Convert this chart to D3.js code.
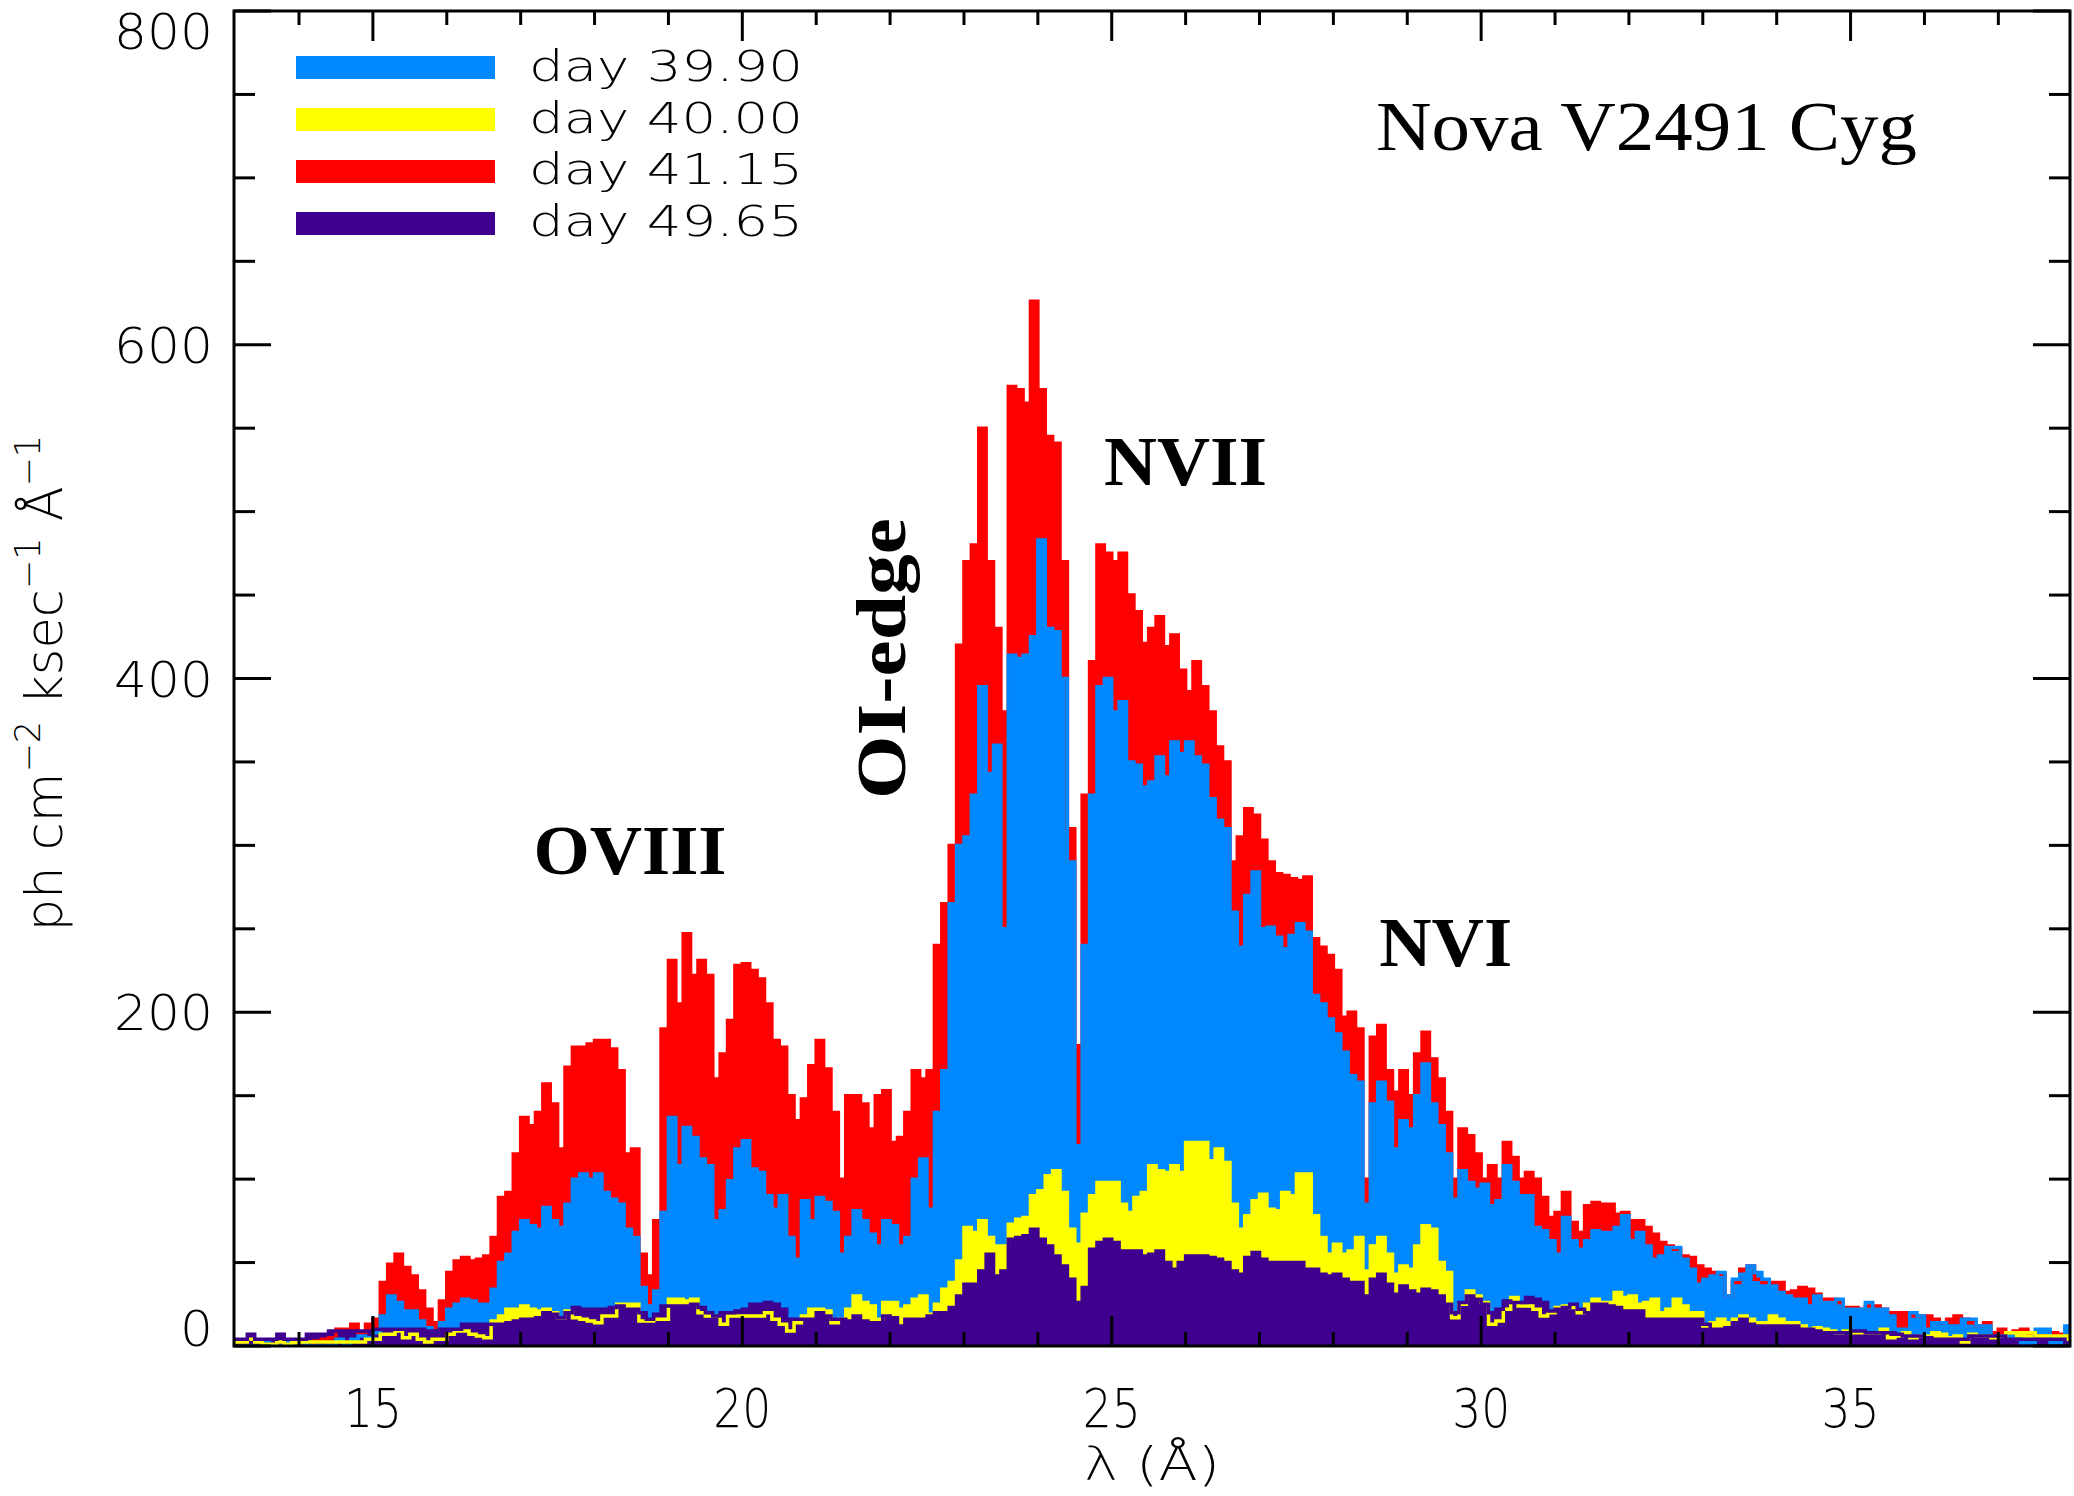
<!DOCTYPE html>
<html><head><meta charset="utf-8">
<script src="https://cdn.jsdelivr.net/npm/d3@7"></script>
<style>html,body{margin:0;padding:0;background:#fff;}svg{display:block}</style>
</head><body>
<svg id="chart" width="2074" height="1496"></svg>
<script>
// bin start wavelengths (Angstrom), bin width 0.1
const wavelength = [
13.0,13.1,13.2,13.3,13.4,13.5,13.6,13.7,13.8,13.9,
14.0,14.1,14.2,14.3,14.4,14.5,14.6,14.7,14.8,14.9,
15.0,15.1,15.2,15.3,15.4,15.5,15.6,15.7,15.8,15.9,
16.0,16.1,16.2,16.3,16.4,16.5,16.6,16.7,16.8,16.9,
17.0,17.1,17.2,17.3,17.4,17.5,17.6,17.7,17.8,17.9,
18.0,18.1,18.2,18.3,18.4,18.5,18.6,18.7,18.8,18.9,
19.0,19.1,19.2,19.3,19.4,19.5,19.6,19.7,19.8,19.9,
20.0,20.1,20.2,20.3,20.4,20.5,20.6,20.7,20.8,20.9,
21.0,21.1,21.2,21.3,21.4,21.5,21.6,21.7,21.8,21.9,
22.0,22.1,22.2,22.3,22.4,22.5,22.6,22.7,22.8,22.9,
23.0,23.1,23.2,23.3,23.4,23.5,23.6,23.7,23.8,23.9,
24.0,24.1,24.2,24.3,24.4,24.5,24.6,24.7,24.8,24.9,
25.0,25.1,25.2,25.3,25.4,25.5,25.6,25.7,25.8,25.9,
26.0,26.1,26.2,26.3,26.4,26.5,26.6,26.7,26.8,26.9,
27.0,27.1,27.2,27.3,27.4,27.5,27.6,27.7,27.8,27.9,
28.0,28.1,28.2,28.3,28.4,28.5,28.6,28.7,28.8,28.9,
29.0,29.1,29.2,29.3,29.4,29.5,29.6,29.7,29.8,29.9,
30.0,30.1,30.2,30.3,30.4,30.5,30.6,30.7,30.8,30.9,
31.0,31.1,31.2,31.3,31.4,31.5,31.6,31.7,31.8,31.9,
32.0,32.1,32.2,32.3,32.4,32.5,32.6,32.7,32.8,32.9,
33.0,33.1,33.2,33.3,33.4,33.5,33.6,33.7,33.8,33.9,
34.0,34.1,34.2,34.3,34.4,34.5,34.6,34.7,34.8,34.9,
35.0,35.1,35.2,35.3,35.4,35.5,35.6,35.7,35.8,35.9,
36.0,36.1,36.2,36.3,36.4,36.5,36.6,36.7,36.8,36.9,
37.0,37.1,37.2,37.3,37.4,37.5,37.6,37.7,37.8,37.9];
const binWidth = 0.1;

// day 41.15 (red)
const day4115 = [
0,0,0,0,0,0,0,0,0,0,
0,0,3,4,5,10,10,13,8,13,
16,38,49,55,47,42,33,22,14,27,
44,51,53,51,52,54,65,89,92,115,
137,132,140,157,145,118,167,179,179,181,
183,183,178,165,115,118,55,42,75,190,
231,205,247,222,231,222,160,175,195,228,
229,225,220,205,183,179,150,135,148,168,
183,166,140,100,150,150,145,130,150,153,
122,125,140,165,160,165,240,265,300,420,
470,480,550,470,430,380,575,573,565,626,
573,545,541,470,310,180,330,410,480,475,
470,475,450,440,421,430,437,419,426,405,
392,410,395,380,359,350,290,305,322,318,
303,290,283,282,280,279,281,244,239,234,
225,197,200,190,100,185,192,165,152,165,
150,175,188,172,160,140,100,130,126,115,
100,108,100,122,113,100,104,100,89,77,
80,92,74,68,84,86,85,85,79,80,
75,75,71,67,62,60,58,54,53,48,
46,44,43,30,38,46,48,40,38,38,
38,32,33,35,34,31,28,28,26,23,
23,22,24,24,22,20,20,20,18,18,
18,16,14,16,18,16,14,12,14,8,
10,8,9,10,8,6,6,8,7,6];

// day 39.90 (blue)
const day3990 = [
0,0,0,0,0,2,0,0,2,0,
2,0,0,0,0,4,0,4,6,5,
8,18,30,26,21,21,15,11,9,14,
22,25,28,27,25,25,34,50,55,68,
75,72,70,83,75,71,85,100,103,100,
103,92,88,85,70,65,35,24,33,80,
137,108,131,125,112,108,75,81,99,118,
123,106,104,90,82,90,65,52,87,75,
89,86,80,55,65,81,75,67,60,75,
72,60,65,100,112,82,140,165,265,300,
305,330,395,343,360,250,414,412,414,425,
483,430,428,400,290,120,240,330,395,400,
380,386,350,348,335,338,353,341,362,355,
362,353,348,328,315,310,260,239,270,284,
250,251,245,238,246,253,248,210,205,196,
187,176,162,158,85,145,158,146,118,135,
130,150,169,145,132,115,88,105,98,94,
97,84,87,108,98,90,90,71,69,63,
55,77,63,58,63,69,68,68,71,78,
63,68,60,52,54,59,59,52,46,37,
40,42,44,30,40,43,48,44,40,36,
32,30,28,28,24,30,26,26,28,22,
22,22,26,22,22,18,10,10,20,18,
10,14,14,12,12,16,16,12,12,6,
6,6,4,2,2,10,10,2,2,12];

// day 40.00 (yellow)
const day4000 = [
2.4,2.4,2.4,4,2.4,1,1,2.4,1,2,
2.4,2.4,2.4,2.4,2.4,2.4,2.4,2.4,2.4,4,
4,7,7,9,5,7,4,2.4,4,4,
7,9,9,7,6,5,15,18,22,22,
24,22,21,22,20,17,21,17,16,15,
14,18,18,25,25,25,15,15,16,16,
28,28,27,28,20,18,18,13,18,18,
18,18,18,20,16,13,9,14,18,22,
22,21,14,16,22,30,26,24,16,26,
26,22,24,28,30,19,25,34,38,51,
71,68,75,65,60,60,73,76,77,90,
93,102,105,92,70,61,79,90,98,98,
98,85,80,89,92,108,105,104,108,104,
122,122,122,111,118,110,85,70,78,87,
91,82,81,92,90,103,103,78,65,55,
61,55,57,65,45,60,65,55,43,48,
46,60,72,70,50,44,17,25,33,30,
26,13,15,22,29,24,24,22,18,20,
23,24,23,20,25,28,26,26,32,29,
30,25,26,28,20,22,28,24,20,20,
12,14,16,14,16,18,16,14,14,18,
16,14,14,12,10,11,10,9,8,9,
8,8,8,8,10,5,6,8,5,6,
6,8,7,5,6,2.4,7,6,6,5,
6,8,8,8,8,6,6,6,6,6];

// day 49.65 (purple)
const day4965 = [
4,4,4,7,4,4,4,7,4,4,
4,7,7,7,9,9,9,9,9,9,
10,10,10,10,10,10,10,9,9,10,
10,10,13,13,13,13,13,13,14,15,
16,16,17,20,19,17,20,23,22,22,
22,22,23,24,22,22,20,16,19,24,
24,24,24,25,23,20,18,20,20,21,
22,25,25,26,25,22,16,16,16,16,
20,18,16,16,15,18,15,14,14,18,
17,12,16,16,16,18,20,20,23,30,
37,37,45,55,42,45,64,65,66,70,
64,60,54,48,40,26,35,58,62,64,
62,57,57,57,54,55,57,50,46,50,
54,54,54,53,52,50,45,43,53,56,
52,50,50,50,50,50,46,46,43,42,
43,40,38,38,30,40,43,37,31,36,
33,31,34,33,30,25,20,26,30,28,
25,20,22,27,26,26,29,28,26,21,
22,23,25,22,20,25,25,24,23,21,
21,21,16,16,16,16,16,16,16,16,
13,10,10,11,14,16,13,12,12,12,
12,12,12,10,10,9,8,8,8,8,
9,9,8,8,8,8,7,6,6,6,
5,4,4,4,4,4,6,6,6,6,
6,4,4,4,4,4,4,4,4,2];

const legendLabels = ["day 39.90","day 40.00","day 41.15","day 49.65"];
const xTickLabels = [15,20,25,30,35];
const xMinorTicks = [14,15,16,17,18,19,20,21,22,23,24,25,26,27,28,29,30,31,32,33,34,35,36,37];
const yTickLabels = [0,200,400,600,800];
const yMinorTicks = [50,100,150,250,300,350,450,500,550,650,700,750];
const lineLabels = [
  {text:"OVIII", lam:18.48, val:283, rot:false},
  {text:"NVII",  lam:26.0,  val:516, rot:false},
  {text:"NVI",   lam:29.52, val:228, rot:false},
  {text:"OI-edge", lam:22.2, val:412, rot:true}
];

// ---------- drawing ----------
const COLORS = {"day 39.90":"#0088ff","day 40.00":"#ffff00","day 41.15":"#ff0000","day 49.65":"#3f008f"};
const svg = d3.select("#chart");
const L=234, R=2070, T=11, B=1346;
const x = d3.scaleLinear().domain([13.12, 37.97]).range([L, R]);
const y = d3.scaleLinear().domain([0, 800]).range([B, T]);

svg.append("rect").attr("width",2074).attr("height",1496).attr("fill","#fff");
svg.append("defs").append("clipPath").attr("id","plotclip")
  .append("rect").attr("x",L).attr("y",T).attr("width",R-L).attr("height",B-T);

function pts(vals){
  const p = wavelength.map((w,i)=>[w, vals[i]]);
  p.push([wavelength[wavelength.length-1]+binWidth, vals[vals.length-1]]);
  return p;
}
const area = d3.area().curve(d3.curveStepAfter).x(d=>x(d[0])).y0(y(0)).y1(d=>y(d[1]));
const line = d3.line().curve(d3.curveStepAfter).x(d=>x(d[0])).y(d=>y(d[1]));

const order = [["day 41.15",day4115],["day 39.90",day3990],["day 40.00",day4000],["day 49.65",day4965]];
const g = svg.append("g").attr("clip-path","url(#plotclip)");
order.forEach(([name,vals])=>{
  g.append("path").attr("d",area(pts(vals))).attr("fill",COLORS[name]);
});
order.forEach(([name,vals])=>{
  g.append("path").attr("d",line(pts(vals))).attr("fill","none")
   .attr("stroke",COLORS[name]).attr("stroke-width",3.5);
});

// frame
const ax = svg.append("g").attr("stroke","#000").attr("stroke-width",3);
ax.append("rect").attr("x",L).attr("y",T).attr("width",R-L).attr("height",B-T).attr("fill","none");
xMinorTicks.forEach(t=>{
  const major = xTickLabels.includes(t);
  const len = major?30:14;
  ax.append("line").attr("x1",x(t)).attr("x2",x(t)).attr("y1",B).attr("y2",B-len);
  ax.append("line").attr("x1",x(t)).attr("x2",x(t)).attr("y1",T).attr("y2",T+len);
});
yTickLabels.concat(yMinorTicks).forEach(t=>{
  const major = yTickLabels.includes(t);
  const len = major?37:21;
  ax.append("line").attr("x1",L).attr("x2",L+len).attr("y1",y(t)).attr("y2",y(t));
  ax.append("line").attr("x1",R).attr("x2",R-len).attr("y1",y(t)).attr("y2",y(t));
});

const SANS = "'DejaVu Sans', 'Liberation Sans', sans-serif";
const tl = svg.append("g").attr("font-family",SANS).attr("font-weight",200).attr("fill","#000");
yTickLabels.forEach(t=>{
  let yy = y(t)+18;
  if(t===0) yy = B;
  if(t===800) yy = T+38;
  const s = String(t);
  tl.append("text").attr("x",213).attr("y",yy).attr("text-anchor","end")
    .attr("font-size",50).attr("textLength",s.length*33).attr("lengthAdjust","spacingAndGlyphs").text(s);
});
xTickLabels.forEach(t=>{
  const s = String(t);
  tl.append("text").attr("x",x(t)).attr("y",1427).attr("text-anchor","middle")
    .attr("font-size",54).attr("textLength",58).attr("lengthAdjust","spacingAndGlyphs").text(s);
});
tl.append("text").attr("x",(L+R)/2).attr("y",1480).attr("text-anchor","middle")
  .attr("font-size",46).attr("textLength",136).attr("lengthAdjust","spacingAndGlyphs").text("λ (Å)");
const yt = tl.append("text").attr("transform","translate(62,683) rotate(-90)")
  .attr("text-anchor","middle").attr("font-size",51);
yt.append("tspan").text("ph cm");
yt.append("tspan").attr("font-size",35).attr("dy",-22).text("−2");
yt.append("tspan").attr("dy",22).text(" ksec");
yt.append("tspan").attr("font-size",35).attr("dy",-22).text("−1");
yt.append("tspan").attr("dy",22).text(" Å");
yt.append("tspan").attr("font-size",35).attr("dy",-22).text("−1");

// legend
legendLabels.forEach((lab,i)=>{
  svg.append("rect").attr("x",296).attr("y",56+i*52).attr("width",199).attr("height",23).attr("fill",COLORS[lab]);
  tl.append("text").attr("x",529).attr("y",81+i*51.7).attr("font-size",43)
    .attr("textLength",274).attr("lengthAdjust","spacingAndGlyphs").text(lab);
});

// title
svg.append("text").attr("x",1376).attr("y",150).attr("font-family","'Liberation Serif','DejaVu Serif',serif")
  .attr("font-size",70).attr("textLength",541).attr("lengthAdjust","spacingAndGlyphs").text("Nova V2491 Cyg");

// line labels
const widths = {"OVIII":193,"NVII":163,"NVI":133,"OI-edge":281};
lineLabels.forEach(d=>{
  const t = svg.append("text").attr("font-family","'Liberation Serif','DejaVu Serif',serif")
    .attr("font-weight","bold").attr("font-size",70).attr("text-anchor","middle")
    .attr("textLength",widths[d.text]).attr("lengthAdjust","spacingAndGlyphs").text(d.text);
  if(d.rot){
    t.attr("transform",`translate(${x(d.lam)},${y(d.val)}) rotate(-90)`);
  } else {
    t.attr("x",x(d.lam)).attr("y",y(d.val));
  }
});
</script>
</body></html>
